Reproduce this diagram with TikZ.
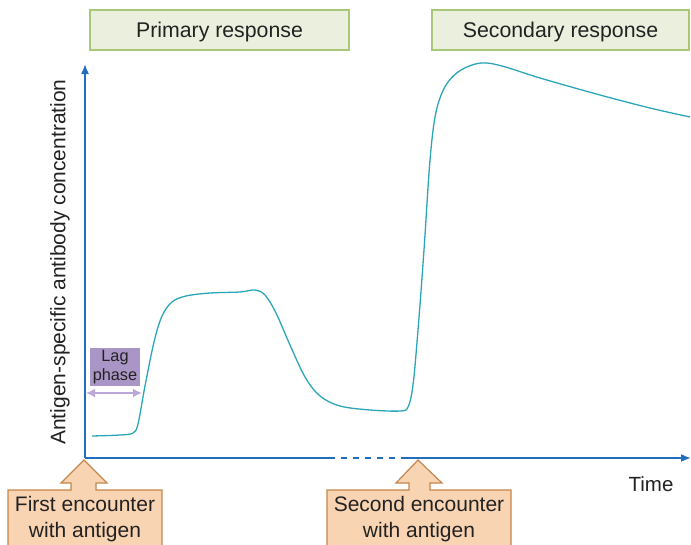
\documentclass[tikz,border=0pt]{standalone}
\usepackage{fontspec}
\setmainfont{Liberation Sans}
\usetikzlibrary{arrows.meta}
\definecolor{axisblue}{HTML}{1F6EC0}
\definecolor{curveteal}{HTML}{2BA6B8}
\definecolor{greenfill}{HTML}{EBF0DE}
\definecolor{greenedge}{HTML}{A8C878}
\definecolor{lagfill}{HTML}{A995C6}
\definecolor{lagarrow}{HTML}{BBA8DA}
\definecolor{orfill}{HTML}{F9D4B3}
\definecolor{oredge}{HTML}{C5864C}
\definecolor{txt}{HTML}{222222}
\tikzset{
  respbox/.style={draw=greenedge, fill=greenfill, line width=1.2pt, minimum height=40pt, text height=15pt, text depth=1pt, text=txt, font=\fontsize{21.3}{25}\selectfont},
  callout/.style={draw=oredge, fill=orfill, line width=1.2pt, line join=miter},
  calltext/.style={text=txt, align=center, font=\fontsize{21}{25.5}\selectfont},
  axis/.style={draw=axisblue, line width=1.6pt},
}
\begin{document}
\begin{tikzpicture}[x=1pt,y=-1pt]
\useasboundingbox (0,0) rectangle (691,544);
\clip (0,0) rectangle (691,544);
% response boxes
\node[respbox, minimum width=259pt] (prim) at (219.5,30) {Primary response};
\node[respbox, minimum width=257pt] (sec) at (560.5,30) {Secondary response};
% axes
\coordinate (o) at (85,458);
\coordinate (ytop) at (85,64);
\coordinate (xend) at (691,458);
\coordinate (d1) at (329,458);
\coordinate (d2) at (404,458);
\draw[axis, -{Latex[length=10pt,width=8pt]}] (o) -- (ytop);
\draw[axis] (o) -- (d1);
\draw[axis, dash pattern=on 6pt off 6pt] (d1) -- (d2);
\draw[axis, -{Latex[length=10pt,width=8pt]}] (d2) -- (xend);
\node[text=txt, rotate=90, font=\fontsize{21}{24}\selectfont] (ylab) at (60,262) {Antigen-specific antibody concentration};
\node[text=txt, font=\fontsize{20.5}{24}\selectfont] (time) at (651,484) {Time};
% curve
\draw[curveteal, line width=1.3pt] plot[smooth, tension=0.55] coordinates {
(92,436) (120,435) (133,433) (138,424) (145,386) (154,342) (162,316) (172,302) (186,296) (210,293) (240,292) (255,290) (265,295) (276,313) (290,345) (305,377) (320,396) (340,406) (370,410) (400,411) (408,407) (413,385) (418,330) (424,250) (430,160) (436,112) (446,85) (461,70) (481,63) (502,66) (540,78) (600,95) (650,108) (690,117)};
% lag phase
\node[fill=lagfill, minimum width=50pt, minimum height=38pt, inner sep=0pt, align=center, text=txt, font=\fontsize{16.3}{19}\selectfont] (lag) at (115,367) {Lag\\phase};
\coordinate (la) at (86,393);
\coordinate (lb) at (142,393);
\draw[lagarrow, line width=2pt, {Latex[length=9pt,width=9pt]}-{Latex[length=9pt,width=9pt]}] (la) -- (lb);
% callouts
\draw[callout] (84,460) -- (107,483) -- (96,483) -- (96,490) -- (162,490) -- (162,560) -- (8,560) -- (8,490) -- (71,490) -- (71,483) -- (61,483) -- cycle;
\node[calltext] (first) at (85,519) {First encounter\\with antigen};
\draw[callout] (418,460) -- (442,483) -- (430,483) -- (430,490) -- (511,490) -- (511,560) -- (327,560) -- (327,490) -- (409,490) -- (409,483) -- (396,483) -- cycle;
\node[calltext] (second) at (419,519) {Second encounter\\with antigen};
\end{tikzpicture}
\end{document}
